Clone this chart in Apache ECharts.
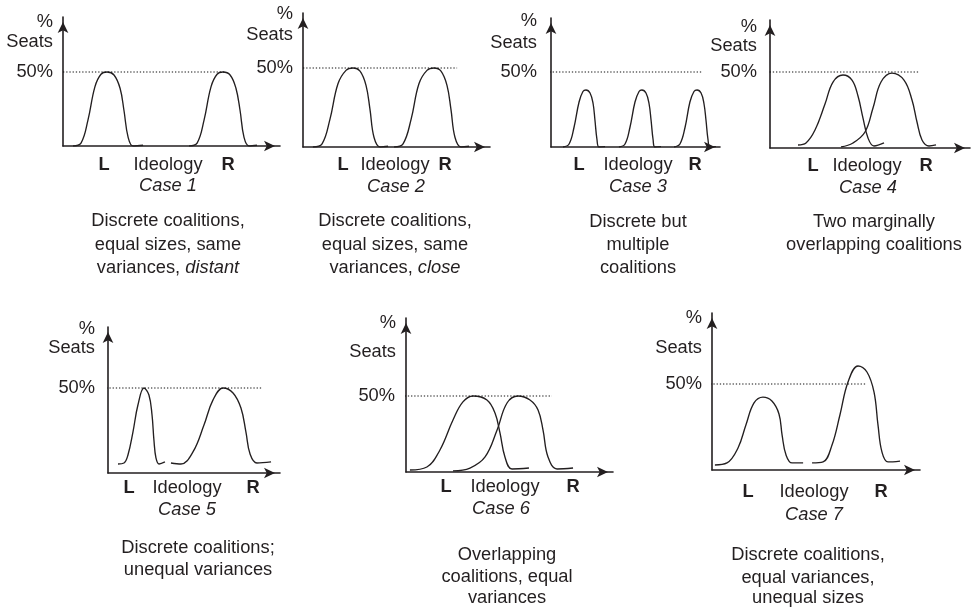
<!DOCTYPE html>
<html><head><meta charset="utf-8">
<script src="https://cdn.jsdelivr.net/npm/echarts@6/dist/echarts.min.js"></script>
<style>html,body{margin:0;padding:0;background:#fff}#c{width:975px;height:609px}</style>
</head><body><div id="c"></div>
<script>
// ---------------- DATA ----------------
const caseNames = ['Case 1','Case 2','Case 3','Case 4','Case 5','Case 6','Case 7'];
const xAxisLabels = ['L','Ideology','R'];
const yAxisTitle = ['%','Seats'];
const refValue = 50; // the 50% seats line
const descriptions = [
  ['Discrete coalitions,','equal sizes, same','variances, {i|distant}'],
  ['Discrete coalitions,','equal sizes, same','variances, {i|close}'],
  ['Discrete but','multiple','coalitions'],
  ['Two marginally','overlapping coalitions'],
  ['Discrete coalitions;','unequal variances'],
  ['Overlapping','coalitions, equal','variances'],
  ['Discrete coalitions,','equal variances,','unequal sizes']
];
// extent of the dotted 50% line along the ideology axis (0-100 scale)
const refLineSpan = [[0,74.7],[0,82.4],[-4.7,89.3],[-5,75],[-2.9,89.5],[-5.3,70.5],[-2.4,74.5]];

// curves: [ideology, % seats]
const case1Left  = [[4.6,0],[8.3,2],[11.5,17.5],[14.7,40],[17.5,48.5],[20.3,50],[23.5,48],[26.3,39],[28.1,24],[30.0,6],[32.3,0],[36.9,0.5]];
const case1Right = [[58.1,0],[61.8,2],[65.0,17.5],[68.2,40],[71.0,48.5],[73.7,50],[77.0,48],[79.7,39],[81.6,24],[83.4,6],[85.7,0],[89.4,0.5]];
const case2Left  = [[5.3,0],[10.2,2],[14.4,17.5],[18.7,40],[23.0,48.5],[26.7,50],[30.5,48],[33.7,39],[35.8,24],[38.0,6],[41.2,0],[45.5,0.5]];
const case2Right = [[48.7,0],[53.5,2],[57.8,17.5],[62.0,40],[66.3,48.5],[70.1,50],[73.8,48],[77.0,39],[79.1,24],[81.3,6],[84.5,0],[88.8,0.5]];
const case3Left  = [[7.1,0],[10.7,2],[13.6,13],[16.6,30],[18.9,37],[20.7,38],[23.1,36],[24.9,29],[26.0,18],[27.2,5],[28.4,0],[32.0,0.3]];
const case3Mid   = [[40.2,0],[43.8,2],[46.7,13],[49.7,30],[52.1,37],[53.8,38],[56.2,36],[58.0,29],[59.2,18],[60.4,5],[61.5,0],[65.1,0.3]];
const case3Right = [[72.8,0],[76.3,2],[79.3,13],[82.2,30],[84.6,37],[86.4,38],[88.8,36],[90.5,29],[91.7,18],[92.9,5],[94.1,0],[97.6,0.3]];
const case4Left  = [[14,2],[18,3.3],[22.5,11.8],[27.5,28.9],[31.5,43.4],[36.5,48],[41,44.7],[44,34.2],[46.5,19.7],[49,6.6],[52,1.3],[57,3.3]];
const case4Right = [[35.5,0.7],[41.5,3.3],[47.5,10.5],[51.5,26.3],[55.5,43.4],[61,49.3],[67,44.7],[71,31.6],[73.5,17.1],[76,5.3],[79.5,1.3],[83,2.0]];
const case5Left  = [[5.8,5.3],[9.3,5.9],[11.6,10.6],[14.5,24.1],[17.4,40],[20.9,50],[23.8,45.9],[25.6,34.1],[26.7,19.4],[27.9,8.8],[29.7,5.3],[33.1,6.5]];
const case5Right = [[36.6,5.9],[42.4,5.3],[49.4,12.4],[55.8,28.2],[61.0,42.9],[66.9,50],[72.7,47.1],[77.3,38.2],[80.2,24.1],[82.6,11.2],[86.6,5.9],[94.8,6.5]];
const case6Left  = [[1.9,1.3],[10.1,3.3],[16.4,14.5],[22.7,34.2],[27.5,46.1],[32.4,50],[39.1,47.4],[43.0,38.8],[45.4,25.7],[47.8,9.9],[51.2,2.0],[59.4,2.6]];
const case6Right = [[22.7,0.7],[30.9,2.6],[38.2,9.9],[44.0,27.6],[48.8,45.4],[54.1,50],[59.9,47.4],[63.8,40.8],[66.2,27.6],[68.6,9.9],[73.0,2.0],[80.7,2.6]];
const case7Left  = [[1.4,2.9],[7.2,4.1],[12.5,12.8],[16.3,26.2],[20.2,39.0],[24.5,42.4],[28.8,40.1],[32.2,32.6],[33.7,20.3],[35.6,8.7],[38.5,4.1],[43.8,4.1]];
const case7Right = [[48.1,4.1],[53.4,4.7],[57.7,14.5],[61.5,32.0],[65.4,51.2],[70.2,60.5],[74.5,57.0],[77.9,45.3],[79.8,26.2],[81.7,10.5],[84.6,4.7],[90.4,5.2]];
const panelCurves = [
  [case1Left, case1Right],
  [case2Left, case2Right],
  [case3Left, case3Mid, case3Right],
  [case4Left, case4Right],
  [case5Left, case5Right],
  [case6Left, case6Right],
  [case7Left, case7Right]
];

// ---------------- LAYOUT (pixels) ----------------
const layout = [
  {left:63, top:17, width:217, height:129, ymax:87.2, margin:10, pct:[53,22], seats:[53,42], L:[104,165], Id:[168,165], R:[228,165], cs:[168,186], dx:168, dy:[221,245,268]},
  {left:303, top:13, width:187, height:134, ymax:84.8, margin:10, pct:[293,14], seats:[293,35], L:[343,165], Id:[395,165], R:[445,165], cs:[396,187], dx:395, dy:[221,245,268]},
  {left:551, top:18, width:169, height:129, ymax:86, margin:14, pct:[537,21], seats:[537,43], L:[579,165], Id:[638,165], R:[695,165], cs:[638,187], dx:638, dy:[222,245,268]},
  {left:770, top:20, width:200, height:128, ymax:84.2, margin:13, pct:[757,27], seats:[757,46], L:[813,166], Id:[867,166], R:[926,166], cs:[868,188], dx:874, dy:[222,245]},
  {left:108, top:327, width:172, height:146, ymax:85.9, margin:13, pct:[95,329], seats:[95,348], L:[129,488], Id:[187,488], R:[253,488], cs:[187,510], dx:198, dy:[548,570]},
  {left:406, top:318, width:207, height:154, ymax:101.3, margin:11, pct:[396,323], seats:[396,352], L:[446,487], Id:[505,487], R:[573,487], cs:[501,509], dx:507, dy:[555,577,598]},
  {left:712, top:313, width:208, height:157, ymax:91.3, margin:10, pct:[702,318], seats:[702,348], L:[748,492], Id:[814,492], R:[881,492], cs:[814,515], dx:808, dy:[555,578,598]}
];

const FONT = '"Liberation Sans", Arial, Helvetica, sans-serif';
const INK = '#231f20';
const FS = 18.3;

const grids = [], xAxes = [], yAxes = [], series = [], graphics = [];
function txt(x, y, text, opts) {
  opts = opts || {};
  graphics.push({
    type: 'text', x: x, y: y, silent: true,
    style: Object.assign({
      text: text, fill: INK, fontSize: FS, fontFamily: FONT,
      textAlign: opts.align || 'center', textVerticalAlign: 'middle'
    }, opts.style || {})
  });
}

layout.forEach(function (p, i) {
  grids.push({left: p.left, top: p.top, width: p.width, height: p.height, containLabel: false});
  const axisLine = {show: true, onZero: false, symbol: ['none','arrow'], symbolSize: [8, 11], symbolOffset: [0, -5],
                    lineStyle: {color: INK, width: 1.6}};
  xAxes.push({gridIndex: i, type: 'value', min: 0, max: 100, axisLine: axisLine,
              axisTick: {show: false}, axisLabel: {show: false}, splitLine: {show: false}});
  yAxes.push({gridIndex: i, type: 'value', min: 0, max: p.ymax, interval: 50, axisLine: axisLine,
              axisTick: {show: false}, splitLine: {show: false},
              axisLabel: {show: true, margin: p.margin, color: INK, fontSize: FS, fontFamily: FONT,
                          formatter: function (v) { return v === refValue ? refValue + '%' : ''; }}});
  panelCurves[i].forEach(function (curve) {
    series.push({type: 'line', xAxisIndex: i, yAxisIndex: i, data: curve, smooth: 0.4,
                 showSymbol: false, silent: true, lineStyle: {color: INK, width: 1.35}});
  });
  series.push({type: 'line', xAxisIndex: i, yAxisIndex: i, clip: false, silent: true, showSymbol: false,
               data: [[refLineSpan[i][0], refValue], [refLineSpan[i][1], refValue]],
               lineStyle: {color: '#111', width: 1.15, type: [1.3, 1.9]}});

  // texts
  txt(p.pct[0], p.pct[1], yAxisTitle[0], {align: 'right'});
  txt(p.seats[0], p.seats[1], yAxisTitle[1], {align: 'right'});
  txt(p.L[0], p.L[1], xAxisLabels[0], {style: {fontWeight: 'bold'}});
  txt(p.Id[0], p.Id[1], xAxisLabels[1]);
  txt(p.R[0], p.R[1], xAxisLabels[2], {style: {fontWeight: 'bold'}});
  txt(p.cs[0], p.cs[1], caseNames[i], {style: {fontStyle: 'italic'}});
  descriptions[i].forEach(function (line, k) {
    txt(p.dx, p.dy[k], line, {style: {rich: {i: {fontStyle: 'italic', fontSize: FS, fontFamily: FONT, fill: INK}}}});
  });
});

const chart = echarts.init(document.getElementById('c'), null, {renderer: 'canvas'});
chart.setOption({
  backgroundColor: '#ffffff',
  animation: false,
  grid: grids, xAxis: xAxes, yAxis: yAxes, series: series,
  graphic: graphics
});
</script></body></html>
